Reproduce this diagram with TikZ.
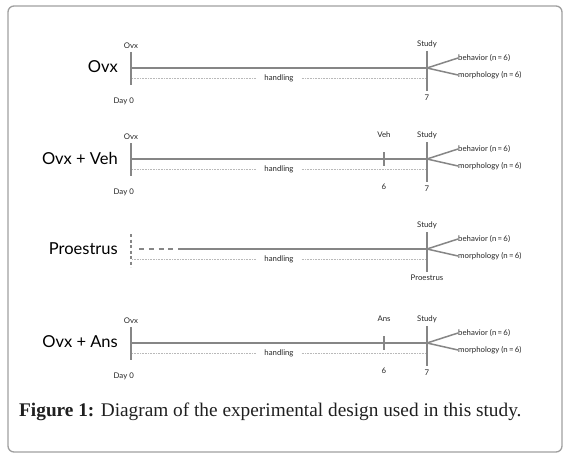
\documentclass[tikz,border=0pt]{standalone}
\usepackage{fontspec}
\setmainfont{Liberation Serif}
\setsansfont{Lato}

\begin{document}
\begin{tikzpicture}[x=1pt, y=-1pt, line cap=butt, line join=round, font=\sffamily]

% --- Global TikZ Styles for Consistency ---
\tikzset{
    timeline/.style={
        draw=gray!95,
        line width=2pt
    },
    daybar/.style={
        draw=gray!95,
        line width=1.9pt
    },
    daytick/.style={
        draw=gray!95,
        line width=1.2pt
    },
    handle/.style={
        draw=gray!55,
        line width=0.8pt,
        dash pattern=on 0.7pt off 0.9pt
    },
    branch/.style={
        draw=gray!95,
        line width=1.5pt
    },
    group/.style={
        font=\sffamily\fontsize{16.5}{17}\selectfont,
        anchor=east,
        inner sep=0pt
    },
    small/.style={
        font=\sffamily\fontsize{7.8}{8}\selectfont,
        text=black!85,
        inner sep=0pt
    },
    hdl/.style={
        small,
        inner xsep=8pt
    },
    caption/.style={
        font=\rmfamily\fontsize{19.3}{22}\selectfont,
        text=black!88,
        anchor=base west,
        inner sep=0pt
    }
}

\useasboundingbox (0,0) rectangle (568,460);

% --- Frame ---
\draw[draw=gray!75, line width=1.3pt, rounded corners=6pt] (8,6) rectangle (562,452);

% =========================================================================
% --- Ovx ---
% =========================================================================
\begin{scope}[shift={(131,68)}]

    % --- Day marks ---
    \coordinate (a0) at (0,0);
    \coordinate (a7) at (296,0);
    \draw[daybar] (0,-16) -- (0,17);        % day 0
    \draw[daybar] (296,-17) -- (296,23);    % day 7
    \draw[timeline] (a0) -- (a7);

    \node[group] (grpA) at (-13,-1) {Ovx};
    \node[small] (ovxA) at (0,-22) {Ovx};
    \node[small, anchor=east] (dayA) at (3,33) {Day 0};
    \node[small] (studyA) at (296,-24) {Study};
    \node[small] (sevenA) at (296,30) {7};

    % --- handling ---
    \coordinate (h0a) at (1,10);
    \coordinate (h7a) at (295,10);
    \node[hdl] (hdlA) at (148,10) {handling};
    \draw[handle] (h0a) -- (hdlA.west);
    \draw[handle] (hdlA.east) -- (h7a);

    % --- Outcomes ---
    \node[small, anchor=west] (behA) at (327,-10) {behavior (n\,=\,6)};
    \node[small, anchor=west] (morA) at (327,7) {morphology (n\,=\,6)};
    \draw[branch] (a7) -- (behA.west);
    \draw[branch] (a7) -- (morA.west);

\end{scope}

% =========================================================================
% --- Ovx + Veh ---
% =========================================================================
\begin{scope}[shift={(131,159)}]

    % --- Day marks ---
    \coordinate (b0) at (0,0);
    \coordinate (b7) at (296,0);
    \draw[daybar] (0,-16) -- (0,17);        % day 0
    \draw[daytick] (253,-7) -- (253,7);     % day 6
    \draw[daybar] (296,-17) -- (296,23);    % day 7
    \draw[timeline] (b0) -- (b7);

    \node[group] (grpB) at (-13,-1) {Ovx + Veh};
    \node[small] (ovxB) at (0,-22) {Ovx};
    \node[small, anchor=east] (dayB) at (3,33) {Day 0};
    \node[small] (vehB) at (253,-24) {Veh};
    \node[small] (sixB) at (253,28) {6};
    \node[small] (studyB) at (296,-24) {Study};
    \node[small] (sevenB) at (296,30) {7};

    % --- handling ---
    \coordinate (h0b) at (1,10);
    \coordinate (h7b) at (295,10);
    \node[hdl] (hdlB) at (148,10) {handling};
    \draw[handle] (h0b) -- (hdlB.west);
    \draw[handle] (hdlB.east) -- (h7b);

    % --- Outcomes ---
    \node[small, anchor=west] (behB) at (327,-10) {behavior (n\,=\,6)};
    \node[small, anchor=west] (morB) at (327,7) {morphology (n\,=\,6)};
    \draw[branch] (b7) -- (behB.west);
    \draw[branch] (b7) -- (morB.west);

\end{scope}

% =========================================================================
% --- Proestrus ---
% =========================================================================
\begin{scope}[shift={(131,249)}]

    % --- Day marks ---
    \coordinate (c0) at (8,0);
    \coordinate (cd) at (52,0);
    \coordinate (c7) at (296,0);
    \draw[daybar, dash pattern=on 3pt off 2.5pt] (0,-15) -- (0,18);
    \draw[daybar] (296,-17) -- (296,23);    % study
    \draw[timeline, dash pattern=on 5pt off 4.75pt] (c0) -- (cd);
    \draw[timeline] (cd) -- (c7);

    \node[group] (grpC) at (-13,0) {Proestrus};
    \node[small] (studyC) at (296,-24) {Study};
    \node[small] (proC) at (296,29) {Proestrus};

    % --- handling ---
    \coordinate (h0c) at (1,10);
    \coordinate (h7c) at (295,10);
    \node[hdl] (hdlC) at (148,10) {handling};
    \draw[handle] (h0c) -- (hdlC.west);
    \draw[handle] (hdlC.east) -- (h7c);

    % --- Outcomes ---
    \node[small, anchor=west] (behC) at (327,-10) {behavior (n\,=\,6)};
    \node[small, anchor=west] (morC) at (327,7) {morphology (n\,=\,6)};
    \draw[branch] (c7) -- (behC.west);
    \draw[branch] (c7) -- (morC.west);

\end{scope}

% =========================================================================
% --- Ovx + Ans ---
% =========================================================================
\begin{scope}[shift={(131,343)}]

    % --- Day marks ---
    \coordinate (d0) at (0,0);
    \coordinate (d7) at (296,0);
    \draw[daybar] (0,-16) -- (0,17);        % day 0
    \draw[daytick] (253,-7) -- (253,7);     % day 6
    \draw[daybar] (296,-17) -- (296,23);    % day 7
    \draw[timeline] (d0) -- (d7);

    \node[group] (grpD) at (-13,-1) {Ovx + Ans};
    \node[small] (ovxD) at (0,-22) {Ovx};
    \node[small, anchor=east] (dayD) at (3,33) {Day 0};
    \node[small] (ansD) at (253,-24) {Ans};
    \node[small] (sixD) at (253,28) {6};
    \node[small] (studyD) at (296,-24) {Study};
    \node[small] (sevenD) at (296,30) {7};

    % --- handling ---
    \coordinate (h0d) at (1,10);
    \coordinate (h7d) at (295,10);
    \node[hdl] (hdlD) at (148,10) {handling};
    \draw[handle] (h0d) -- (hdlD.west);
    \draw[handle] (hdlD.east) -- (h7d);

    % --- Outcomes ---
    \node[small, anchor=west] (behD) at (327,-10) {behavior (n\,=\,6)};
    \node[small, anchor=west] (morD) at (327,7) {morphology (n\,=\,6)};
    \draw[branch] (d7) -- (behD.west);
    \draw[branch] (d7) -- (morD.west);

\end{scope}

% --- Caption ---
\node[caption] (cap) at (19,416) {\textbf{Figure 1:} Diagram of the experimental design used in this study.};

\end{tikzpicture}
\end{document}
